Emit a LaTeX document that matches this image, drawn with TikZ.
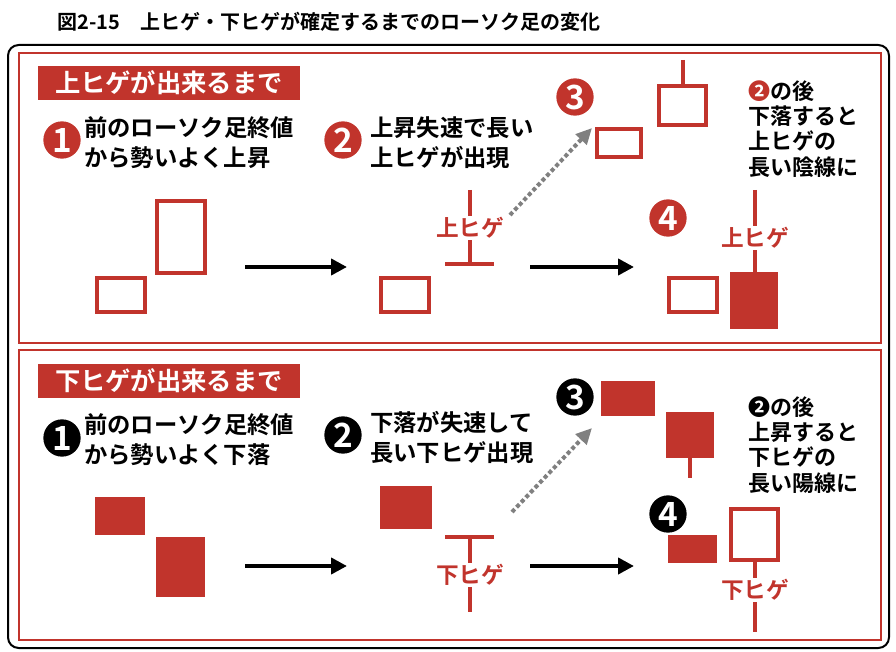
\documentclass[tikz,border=0pt]{standalone}
\usepackage{fontspec}
\newfontfamily\jp{Noto Sans CJK JP}[BoldFont={Noto Sans CJK JP Bold}]
\definecolor{candlered}{HTML}{C1342C}
\usetikzlibrary{arrows.meta}
\begin{document}
\begin{tikzpicture}[x=0.75pt,y=-0.75pt,font=\jp]
      \tikzstyle{hollow}=[draw=candlered,line width=3pt,fill=white]
      \tikzstyle{wick}=[draw=candlered,line width=3pt]
      \tikzstyle{num}=[circle,minimum size=28pt,inner sep=0pt,text=white,font=\jp\bfseries\fontsize{25}{25}\selectfont]
      \tikzstyle{body}=[anchor=north west,align=left,inner sep=0pt,font=\jp\bfseries\fontsize{17.5}{22.5}\selectfont]
      \tikzstyle{note}=[anchor=north west,align=left,inner sep=0pt,font=\jp\bfseries\fontsize{16.5}{19}\selectfont]
      \tikzstyle{tag}=[fill=candlered,text=white,minimum width=196pt,minimum height=25pt,inner sep=0pt,font=\jp\bfseries\fontsize{19}{19}\selectfont]
      \tikzstyle{hige}=[text=candlered,fill=white,inner sep=1pt,font=\jp\bfseries\fontsize{17}{17}\selectfont]
      \tikzstyle{step arrow}=[-{Triangle[length=12pt,width=12pt]},line width=3.5pt]
      \tikzstyle{jump}=[-{Triangle[length=12pt,width=11pt]},line width=3pt,gray,dotted]

      \useasboundingbox (0,0) rectangle (896,652);
      \node[anchor=west,inner sep=0pt,font=\jp\bfseries\fontsize{15}{15}\selectfont] (title) at (57,22) {図2-15\quad 上ヒゲ・下ヒゲが確定するまでのローソク足の変化};
      \draw[line width=1.5pt,rounded corners=8pt] (8,45) rectangle (889,648);
      \draw[candlered,line width=1.5pt] (19,53) rectangle (881,343);
      \draw[candlered,line width=1.5pt] (19,350) rectangle (881,640);

      % upper panel
      \node[tag] (tagU) at (169,83) {上ヒゲが出来るまで};
      \node[num,fill=candlered] (u1) at (62,140) {1};
      \node[body] (u1t) at (84,116) {前のローソク足終値\\から勢いよく上昇};
      \draw[hollow] (97,278) rectangle (145,312);
      \draw[hollow] (157,201) rectangle (205,273);
      \node[num,fill=candlered] (u2) at (343,140) {2};
      \node[body] (u2t) at (370,116) {上昇失速で長い\\上ヒゲが出現};
      \draw[hollow] (381,278) rectangle (429,312);
      \draw[wick] (470,190) -- (470,264) (445,264) -- (494,264);
      \node[hige] (hU2) at (470,228) {上ヒゲ};
      \node[num,fill=candlered] (u3) at (575,97) {3};
      \draw[hollow] (597,129) rectangle (641,157);
      \draw[wick] (683,60) -- (683,86);
      \draw[hollow] (659,86) rectangle (706,125);
      \node[note] (u3t) at (748,80) {{\color{candlered}❷}の後\\下落すると\\上ヒゲの\\長い陰線に};
      \node[num,fill=candlered] (u4) at (668,218) {4};
      \draw[hollow] (669,278) rectangle (717,312);
      \draw[wick] (755,190) -- (755,275);
      \fill[candlered] (730,272) rectangle (778,329);
      \node[hige] (hU4) at (755,238) {上ヒゲ};
      \coordinate (a1) at (245,267); \coordinate (b1) at (347,267);
      \coordinate (a2) at (530,267); \coordinate (b2) at (634,267);
      \draw[step arrow] (a1) -- (b1);
      \draw[step arrow] (a2) -- (b2);
      \coordinate (j1) at (510,215); \coordinate (k1) at (592,128);
      \draw[jump] (j1) -- (k1);

      % lower panel
      \node[tag] (tagL) at (169,381) {下ヒゲが出来るまで};
      \node[num,fill=black] (l1) at (62,438) {1};
      \node[body] (l1t) at (84,413) {前のローソク足終値\\から勢いよく下落};
      \fill[candlered] (95,497) rectangle (145,535);
      \fill[candlered] (156,537) rectangle (205,597);
      \node[num,fill=black] (l2) at (343,435) {2};
      \node[body] (l2t) at (370,411) {下落が失速して\\長い下ヒゲ出現};
      \fill[candlered] (380,486) rectangle (432,529);
      \draw[wick] (445,537) -- (494,537) (470,537) -- (470,612);
      \node[hige] (hL2) at (470,575) {下ヒゲ};
      \node[num,fill=black] (l3) at (575,397) {3};
      \fill[candlered] (601,381) rectangle (655,416);
      \draw[wick] (690,456) -- (690,478);
      \fill[candlered] (666,412) rectangle (714,458);
      \node[note] (l3t) at (748,396) {❷の後\\上昇すると\\下ヒゲの\\長い陽線に};
      \node[num,fill=black] (l4) at (668,514) {4};
      \fill[candlered] (668,535) rectangle (717,563);
      \draw[wick] (755,560) -- (755,632);
      \draw[hollow] (731,509) rectangle (778,560);
      \node[hige] (hL4) at (755,590) {下ヒゲ};
      \coordinate (a3) at (245,566); \coordinate (b3) at (347,566);
      \coordinate (a4) at (530,566); \coordinate (b4) at (634,566);
      \draw[step arrow] (a3) -- (b3);
      \draw[step arrow] (a4) -- (b4);
      \coordinate (j2) at (512,512); \coordinate (k2) at (592,428);
      \draw[jump] (j2) -- (k2);
\end{tikzpicture}
\end{document}
